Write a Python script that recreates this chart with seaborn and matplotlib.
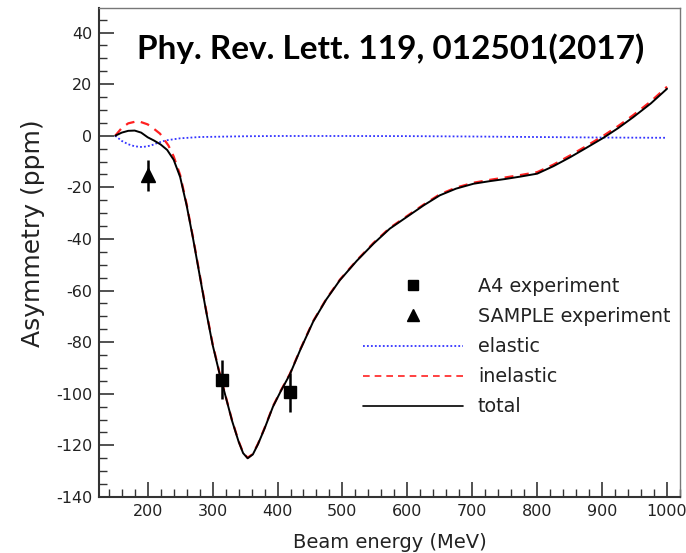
import numpy as np
import pandas as pd
import seaborn as sns
import matplotlib
matplotlib.use("Agg")
import matplotlib.pyplot as plt
from matplotlib.ticker import MultipleLocator
from matplotlib.lines import Line2D

# ---- data ----
total_E = [150, 160, 170, 180, 190, 200, 210, 220, 230, 240, 250, 260, 270, 280, 290, 300,
           310, 320, 330, 340, 347, 354, 362, 370, 380, 393, 405, 419, 435, 455, 475, 496,
           522, 548, 573, 599, 625, 650, 675, 702, 727, 750, 775, 800, 825, 851, 875, 902,
           925, 948, 975, 1000]
total_A = [0, 1.2, 1.9, 2.0, 1.2, -0.6, -1.9, -3.4, -5.5, -9.3, -16, -27, -40, -54, -68, -81,
           -91.5, -101, -110.5, -118.5, -123, -125, -123.5, -119.5, -113.5, -105, -99, -92.5, -83, -72, -63.5, -56,
           -48.5, -41.8, -36, -31.5, -27, -23.1, -20.5, -18.6, -17.6, -16.8, -15.8, -14.7, -11.8, -8.3, -4.8, -0.8,
           3, 7.2, 12.5, 18.2]

inel_E = [150, 160, 170, 185, 200, 210, 219, 232, 240, 250, 260, 270, 280, 290, 300,
          310, 320, 330, 340, 347, 354, 362, 370, 380, 393, 405, 419, 435, 455, 475, 496,
          522, 548, 573, 599, 625, 650, 675, 702, 727, 750, 775, 800, 825, 851, 875, 902,
          925, 948, 975, 1000]
inel_A = [0, 3, 4.8, 5.7, 4.4, 2.6, 0.8, -3.8, -8, -15.2, -26.5, -39.6, -53.6, -67.6, -80.6,
          -91.2, -100.8, -110.3, -118.3, -122.8, -124.8, -123.3, -119.3, -113.3, -104.8, -98.8, -92.3, -82.8, -71.8, -63.3, -55.8,
          -48.3, -41.5, -35.7, -31.2, -26.7, -22.7, -20.1, -18.2, -17.1, -16.2, -15.2, -14.1, -11.2, -7.6, -4.1, 0,
          3.8, 8.0, 13.3, 19.0]

elas_E = [150, 160, 170, 180, 192, 205, 215, 228, 250, 280, 350, 400, 500, 600, 700, 800, 900, 1000]
elas_A = [0, -2, -3.3, -4.1, -4.4, -3.8, -2.8, -1.8, -1.0, -0.5, -0.2, -0.1, -0.1, -0.15, -0.3, -0.5, -0.7, -0.8]

a4_E = [314, 419]
a4_A = [-94.5, -99.5]
a4_err = [7.5, 7.7]

sample_E = [200]
sample_A = [-15.4]
sample_err = [5.9]

title_text = "Phy. Rev. Lett. 119, 012501(2017)"
xlabel = "Beam energy (MeV)"
ylabel = "Asymmetry (ppm)"
labels = ["A4 experiment", "SAMPLE experiment", "elastic", "inelastic", "total"]

# ---- figure ----
sns.set_theme(style="white")
plt.rcParams['font.family'] = ['DejaVu Sans']
plt.rcParams['axes.unicode_minus'] = False

fig = plt.figure(figsize=(6.86, 5.53), dpi=100)
ax = fig.add_axes([99/686, 1-497/553, (680-99)/686, (497-8)/553])

df_el = pd.DataFrame({"E": elas_E, "A": elas_A})
df_in = pd.DataFrame({"E": inel_E, "A": inel_A})
df_to = pd.DataFrame({"E": total_E, "A": total_A})

sns.lineplot(data=df_el, x="E", y="A", ax=ax, color="#3333ff", lw=1.3,
             linestyle=(0, (1, 1.2)), estimator=None, sort=False)
sns.lineplot(data=df_in, x="E", y="A", ax=ax, color="#ff2020", lw=1.6,
             linestyle=(0, (4, 3)), estimator=None, sort=False)
sns.lineplot(data=df_to, x="E", y="A", ax=ax, color="black", lw=1.4,
             estimator=None, sort=False)

ax.errorbar(a4_E, a4_A, yerr=a4_err, fmt="s", color="black", ms=8, elinewidth=1.8, capsize=0)
ax.errorbar(sample_E, sample_A, yerr=sample_err, fmt="^", color="black", ms=10, elinewidth=1.8, capsize=0)

ax.set_xlim(125, 1020)
ax.set_ylim(-140, 49.5)
ax.xaxis.set_major_locator(MultipleLocator(100))
ax.xaxis.set_minor_locator(MultipleLocator(20))
ax.yaxis.set_major_locator(MultipleLocator(20))
ax.yaxis.set_minor_locator(MultipleLocator(5))
ax.tick_params(which="both", direction="in", top=False, right=False, left=True, bottom=True,
               colors="#333333", labelcolor="#222222", labelsize=11.5)
ax.tick_params(which="major", length=11, width=1.2)
ax.tick_params(which="minor", length=5.5, width=1.0)
ax.tick_params(axis="x", which="major", pad=5)
ax.tick_params(axis="y", which="major", pad=5)
for s in ["left", "bottom"]:
    ax.spines[s].set_color("#333333")
    ax.spines[s].set_linewidth(1.5)
for s in ["top", "right"]:
    ax.spines[s].set_color("#777777")
    ax.spines[s].set_linewidth(1.0)

ax.set_xlabel(xlabel, fontsize=14, color="#222222", labelpad=10)
ax.set_ylabel(ylabel, fontsize=18, color="#222222")
ax.yaxis.set_label_coords(-0.093, (497-233)/489)

fig.text(391/686, 1-49/553, title_text, ha="center", va="center",
         fontsize=24, fontweight="bold", family="Lato", color="black")

handles = [
    Line2D([], [], marker="s", color="black", ls="none", ms=7),
    Line2D([], [], marker="^", color="black", ls="none", ms=9),
    Line2D([], [], color="#3333ff", lw=1.3, ls=(0, (1, 1.2))),
    Line2D([], [], color="#ff2020", lw=1.2, ls=(0, (4, 3))),
    Line2D([], [], color="black", lw=1.2),
]
leg = fig.legend(handles, labels, loc="upper left", bbox_to_anchor=(363/686, 1-277/553),
                 frameon=False, fontsize=13.8, handlelength=5.2, handletextpad=0.8,
                 labelspacing=0.58, borderpad=0, borderaxespad=0)
for t in leg.get_texts():
    t.set_color("#222222")

fig.savefig("out.png", dpi=100)
